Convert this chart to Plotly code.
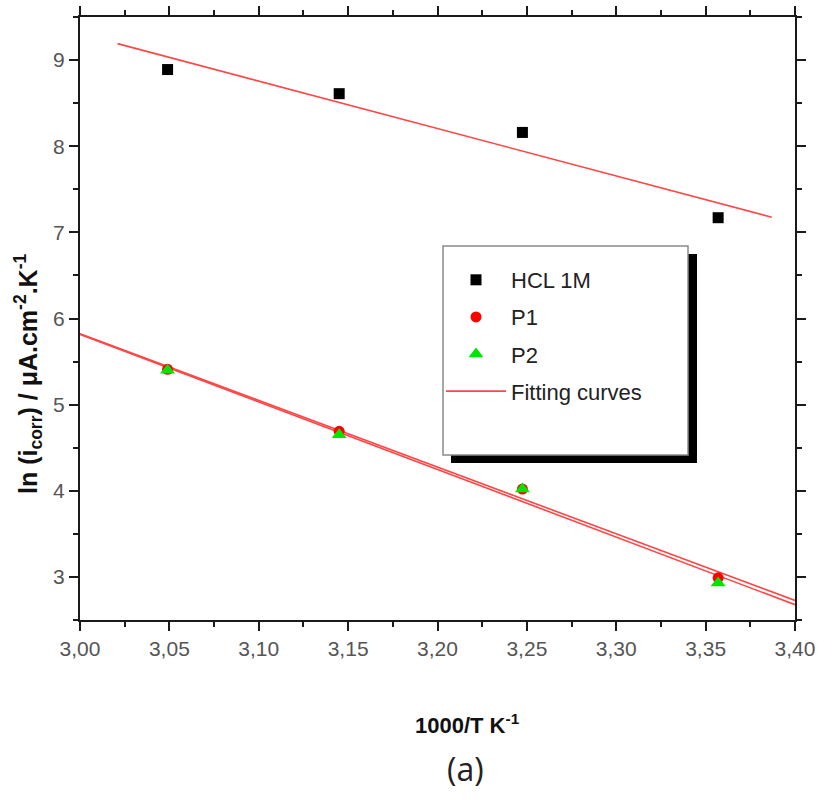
import numpy as np
import plotly.graph_objects as go

# ---- data ----
x_inv_T = [3.049, 3.145, 3.2475, 3.357]          # 1000/T (K^-1)
ln_icorr_hcl = [8.89, 8.61, 8.16, 7.17]           # HCL 1M
ln_icorr_p1 = [5.41, 4.69, 4.02, 2.99]            # P1
ln_icorr_p2 = [5.40, 4.65, 4.02, 2.93]            # P2

fit_range_hcl = [3.021, 3.387]
fit_range_p = [3.0, 3.4]

x_ticks = [3.00, 3.05, 3.10, 3.15, 3.20, 3.25, 3.30, 3.35, 3.40]
y_ticks = [3, 4, 5, 6, 7, 8, 9]

FIT_COLOR = "rgb(255,70,70)"
AX = "#1a1a1a"
TICKFONT = dict(family="Liberation Sans, Arial, sans-serif", size=21, color="#555555")


def fit_line(xs, ys, xr):
    k, b = np.polyfit(xs, ys, 1)
    xr = np.array(xr)
    return xr, k * xr + b


fig = go.Figure()

# fitting lines (drawn first, under the markers)
for i, (ys, xr) in enumerate([(ln_icorr_hcl, fit_range_hcl),
                              (ln_icorr_p1, fit_range_p),
                              (ln_icorr_p2, fit_range_p)]):
    fx, fy = fit_line(x_inv_T, ys, xr)
    fig.add_trace(go.Scatter(
        x=fx, y=fy, mode="lines",
        line=dict(color=FIT_COLOR, width=1.6),
        name="Fitting curves", legendgroup="fit", legendrank=4,
        showlegend=(i == 0), cliponaxis=True))

fig.add_trace(go.Scatter(
    x=x_inv_T, y=ln_icorr_hcl, mode="markers", name="HCL 1M",
    legendgroup="hcl", legendrank=1,
    marker=dict(symbol="square", size=11, color="black")))
fig.add_trace(go.Scatter(
    x=x_inv_T, y=ln_icorr_p1, mode="markers", name="P1",
    legendgroup="p1", legendrank=2,
    marker=dict(symbol="circle", size=11, color="rgb(255,0,0)")))
fig.add_trace(go.Scatter(
    x=x_inv_T, y=ln_icorr_p2, mode="markers", name="P2",
    legendgroup="p2", legendrank=3,
    marker=dict(symbol="triangle-up", size=13, color="rgb(0,230,0)")))

axis_common = dict(
    showline=True, linewidth=2, linecolor=AX, mirror="ticks",
    ticks="outside", ticklen=9, tickwidth=2, tickcolor=AX,
    showgrid=False, zeroline=False, tickfont=TICKFONT, automargin=False,
)

fig.update_xaxes(
    range=[3.0, 3.4], tickvals=x_ticks, tickformat=".2f",
    minor=dict(dtick=0.025, tick0=3.0, ticks="outside", ticklen=5,
               tickwidth=2, tickcolor=AX),
    **axis_common)
fig.update_yaxes(
    range=[2.5, 9.5], tickvals=y_ticks,
    minor=dict(dtick=0.5, tick0=2.5, ticks="outside", ticklen=5,
               tickwidth=2, tickcolor=AX),
    **axis_common)

# plot-area pixel geometry used for the legend frame
L, R, T, B = 80, 795, 17, 620
W, H = R - L, B - T


def px(xp):
    return (xp - L) / W


def py(yp):
    return (B - yp) / H


shapes = [
    dict(type="rect", xref="paper", yref="paper",
         x0=px(451), x1=px(697), y0=py(463), y1=py(254),
         fillcolor="black", line=dict(width=0), layer="above"),
    dict(type="rect", xref="paper", yref="paper",
         x0=px(443), x1=px(688), y0=py(455), y1=py(246),
         fillcolor="white", line=dict(color="#8a8a8a", width=1.5), layer="above"),
]

annotations = [
    dict(text="<b>1000/T K<sup>-1</sup></b>", xref="paper", yref="paper",
         x=px(467), y=py(724), showarrow=False, xanchor="center", yanchor="middle",
         font=dict(family="Liberation Sans, Arial, sans-serif", size=22, color="#111")),
    dict(text="(a)", xref="paper", yref="paper",
         x=px(465), y=py(768), showarrow=False, xanchor="center", yanchor="middle",
         font=dict(family="Open Sans, Liberation Sans, sans-serif", size=32, color="#222")),
    dict(text="<b>ln (i<sub>corr</sub>) / \u03bcA.cm<sup>-2</sup>.K<sup>-1</sup></b>",
         xref="paper", yref="paper", x=px(28), y=py(374), textangle=-90,
         showarrow=False, xanchor="center", yanchor="middle",
         font=dict(family="Liberation Sans, Arial, sans-serif", size=25, color="#111")),
]

fig.update_layout(
    width=818, height=807,
    margin=dict(l=L, r=818 - R, t=T, b=807 - B, autoexpand=False),
    paper_bgcolor="white", plot_bgcolor="white",
    separators=",.",
    shapes=shapes, annotations=annotations,
    showlegend=True,
    legend=dict(
        x=px(441), y=py(259), xanchor="left", yanchor="top",
        bgcolor="rgba(0,0,0,0)", borderwidth=0,
        traceorder="grouped", tracegroupgap=5.5, itemwidth=60,
        font=dict(family="Liberation Sans, Arial, sans-serif", size=22, color="#222"),
    ),
)

fig.write_html(
    "out.html",
    config={"displayModeBar": False},
    post_script="document.body.style.margin='0';document.body.style.overflow='hidden';",
)
